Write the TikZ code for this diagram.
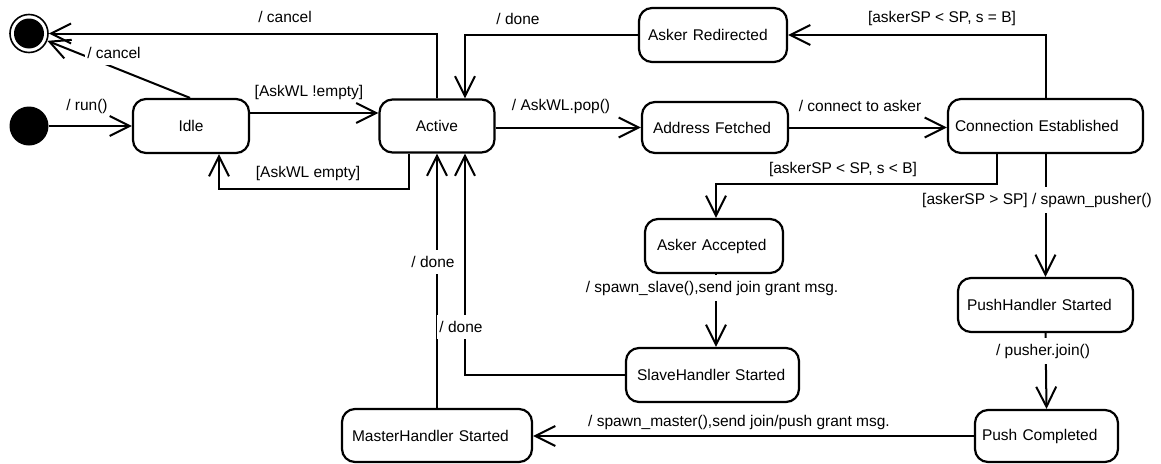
\documentclass[tikz,border=0pt]{standalone}
\usepackage{fontspec}
\setmainfont{Liberation Sans}
\usetikzlibrary{arrows.meta}
\begin{document}
\begin{tikzpicture}[x=1pt,y=-1pt,
  every node/.style={font=\fontsize{15.5}{18}\selectfont},
  state/.style={draw, line width=2.2pt, rounded corners=13pt, inner ysep=0pt, align=left},
  start/.style={circle, fill=black, minimum size=39pt, inner sep=0pt},
  finalring/.style={circle, draw, line width=1.6pt, fill=white, minimum size=38pt, inner sep=0pt},
  trans/.style={line width=2pt, -{Straight Barb[length=20pt,width=20pt]}},
  lbl/.style={inner sep=1pt},
  cut/.style={fill=white, inner xsep=2pt, inner ysep=6pt}]
\useasboundingbox (0,0) rectangle (1161,463);

% pseudo states
\node[start] (init) at (29,126) {};
\node[finalring] (final) at (29,33.5) {};
\fill (final.center) circle[radius=15pt];

% states
\node[state, align=center, minimum width=116pt, minimum height=54pt] (idle) at (191,126) {Idle};
\node[state, align=center, minimum width=115pt, minimum height=53pt] (active) at (437,126) {Active};
\node[state, text width=130pt, inner xsep=9pt, minimum height=54pt] (redir) at (713,35) {Asker Redirected};
\node[state, text width=124pt, inner xsep=11pt, minimum height=51pt] (addr) at (715,127.5) {Address Fetched};
\node[state, text width=181pt, inner xsep=7pt, minimum height=54pt] (conn) at (1045.5,126) {Connection Established};
\node[state, text width=114pt, inner xsep=12pt, minimum height=54pt] (accepted) at (714,246) {Asker Accepted};
\node[state, text width=157pt, inner xsep=9pt, minimum height=54pt] (pushh) at (1045.5,305) {PushHandler Started};
\node[state, text width=129pt, inner xsep=7pt, minimum height=52pt] (pushdone) at (1046.5,436) {Push Completed};
\node[state, text width=170pt, inner xsep=10pt, minimum height=53pt] (master) at (437,435.5) {MasterHandler Started};
\node[state, text width=151pt, inner xsep=11pt, minimum height=54pt] (slave) at (712.5,375) {SlaveHandler Started};

% transitions
\draw[trans] (init) -- (idle);
\draw[trans] ([yshift=13pt]idle.east) -- ([yshift=13pt]idle.east -| active.west);
\draw[trans] ([xshift=-28pt]active.south) -- ++(0,35) -| ([xshift=28pt]idle.south);
\draw[trans] (active.east |- addr.west) -- (addr.west);
\draw[trans] (addr.east) -- (addr.east -| conn.west);
\draw[trans] (conn.north) |- (redir.east);
\draw[trans] ([xshift=-48.5pt]conn.south) -- ++(0,30) -| ([xshift=2pt]accepted.north);
\draw[trans] (conn.south) -- (pushh.north);
\draw[trans] (redir.west) -| ([xshift=28pt]active.north);
\draw[trans] (active.north) |- (final);
\draw[trans] ([xshift=-1pt]idle.north) -- (final);
\draw[trans] ([xshift=2pt]accepted.south) -- ([xshift=2pt]accepted.south |- slave.north);
\draw[trans] (slave.west) -| ([xshift=28pt]active.south);
\draw[trans] (master.north) -- (active.south);
\draw[trans] (pushh.south) -- (pushdone.north);
\draw[trans] (pushdone.west) -- (pushdone.west -| master.east);

% transition labels
\node[lbl] (lrun) at (87,106) {/ run()};
\node[lbl] (lnotempty) at (309,92) {[AskWL !empty]};
\node[lbl] (lempty) at (308,173) {[AskWL empty]};
\node[lbl] (lpop) at (561,106) {/ AskWL.pop()};
\node[lbl] (lconnect) at (860,106) {/ connect to asker};
\node[lbl] (lcancelA) at (285,17) {/ cancel};
\node[lbl] (ldoneA) at (518,19) {/ done};
\node[lbl] (leqB) at (942,18) {[askerSP < SP, s = B]};
\node[lbl] (lltB) at (843,169) {[askerSP < SP, s < B]};
\node[lbl] (lmaster) at (739,422) {/ spawn\_master(),send join/push grant msg.};
\node[cut] (lcancelI) at (114,53) {/ cancel};
\node[cut] (lpusher) at (1037,200) {[askerSP > SP] / spawn\_pusher()};
\node[cut] (lslave) at (712,288) {/ spawn\_slave(),send join grant msg.};
\node[cut] (ljoin) at (1043,351) {/ pusher.join()};
\node[cut] (ldoneM) at (433,262) {/ done};
\node[cut] (ldoneS) at (461,327) {/ done};
\end{tikzpicture}
\end{document}
